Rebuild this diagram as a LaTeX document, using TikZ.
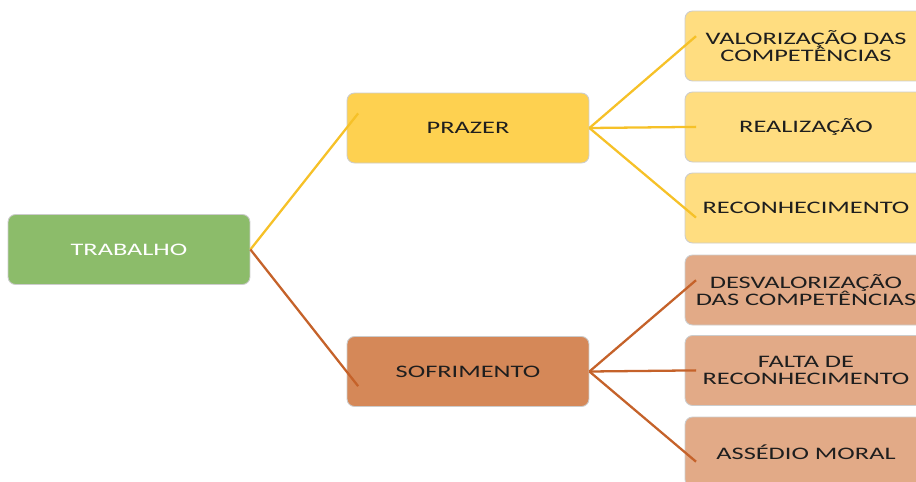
\documentclass[tikz,border=0pt]{standalone}
\usepackage{fontspec}
\setmainfont{Carlito}[FakeStretch=1.5]
\usetikzlibrary{calc}
\definecolor{trabgreen}{RGB}{140,188,106}
\definecolor{prazyellow}{RGB}{254,209,80}
\definecolor{prazlight}{RGB}{255,221,128}
\definecolor{sofbrown}{RGB}{213,136,88}
\definecolor{soflight}{RGB}{226,170,135}
\definecolor{linkyellow}{RGB}{246,193,40}
\definecolor{linkbrown}{RGB}{197,98,42}
\definecolor{textdark}{RGB}{30,30,30}
\begin{document}
\begin{tikzpicture}[x=0.02cm,y=-0.02cm,
    box/.style={draw=white!80!black,line width=0.5pt,rounded corners=0.15cm,
      minimum width=4.84cm,minimum height=1.4cm,inner sep=0pt,align=center,
      text=textdark,font=\fontsize{10}{10}\selectfont},
    link/.style={line width=1.3pt}]
    \useasboundingbox (0,0) rectangle (916,481);
    \clip (0,0) rectangle (916,481);
    % pixel coordinates of the reference, y downwards
    \node[box,fill=trabgreen,text=white] (trab) at (129,249.5) {TRABALHO};
    \node[box,fill=prazyellow] (praz) at (468,128) {PRAZER};
    \node[box,fill=sofbrown] (sofr) at (468,371.5) {SOFRIMENTO};
    \node[box,fill=prazlight] (valo) at (806,46) {VALORIZAÇÃO DAS\\COMPETÊNCIAS};
    \node[box,fill=prazlight] (real) at (806,127) {REALIZAÇÃO};
    \node[box,fill=prazlight] (reco) at (806,208) {RECONHECIMENTO};
    \node[box,fill=soflight] (desv) at (806,290) {DESVALORIZAÇÃO\\DAS COMPETÊNCIAS};
    \node[box,fill=soflight] (falt) at (806,370.5) {FALTA DE\\RECONHECIMENTO};
    \node[box,fill=soflight] (asse) at (806,452) {ASSÉDIO MORAL};
    % connectors run a little into the child box
    \foreach \a/\b/\c in {trab/praz/linkyellow,trab/sofr/linkbrown,
        praz/valo/linkyellow,praz/real/linkyellow,praz/reco/linkyellow,
        sofr/desv/linkbrown,sofr/falt/linkbrown,sofr/asse/linkbrown}{
      \draw[link,\c] (\a.east) -- ($(\a.east)!1.12!(\b.west)$);
    }
\end{tikzpicture}
\end{document}
